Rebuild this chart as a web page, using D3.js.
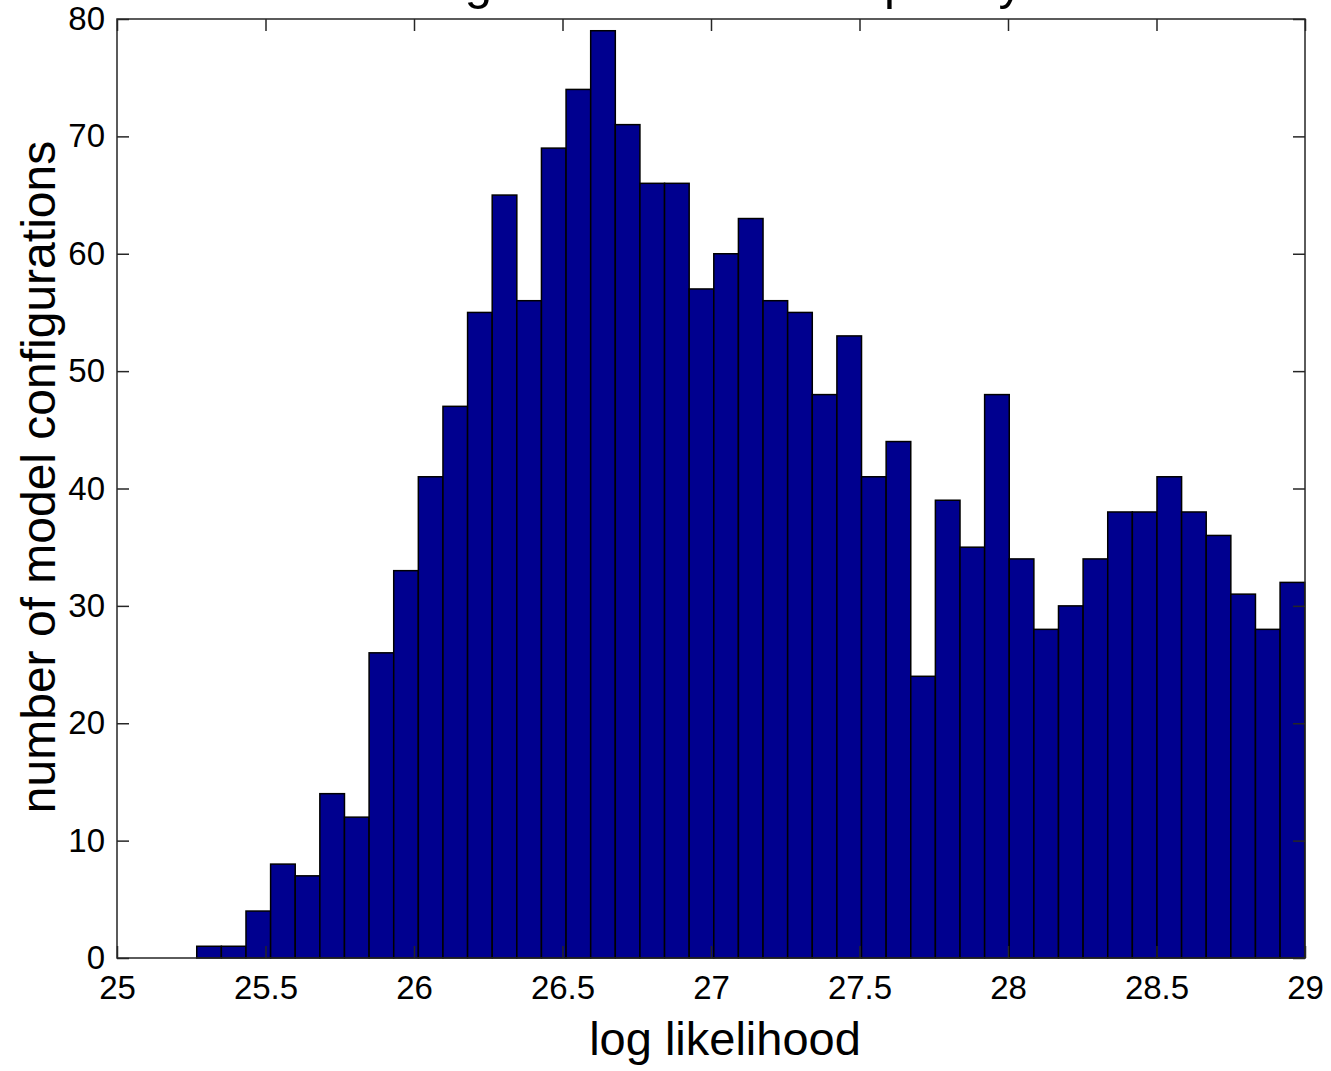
<!DOCTYPE html>
<html>
<head>
<meta charset="utf-8">
<script src="https://cdn.jsdelivr.net/npm/d3@7"></script>
<style>
  body { margin: 0; background: #fff; }
  svg { display: block; font-family: "Liberation Sans", Arial, Helvetica, sans-serif; }
</style>
</head>
<body>
<div class="hist_area"></div>
<script>
// histogram counts, one per bin
var counts = [1, 1, 4, 8, 7, 14, 12, 26, 33, 41, 47, 55, 65, 56, 69, 74, 79, 71, 66, 66,
    57, 60, 63, 56, 55, 48, 53, 41, 44, 24, 39, 35, 48, 34, 28, 30, 34, 38, 38, 41,
    38, 36, 31, 28, 32];
var binStart = 25.2685,
    binWidth = 0.0829;

var xTicks = [25, 25.5, 26, 26.5, 27, 27.5, 28, 28.5, 29];
var yTicks = [0, 10, 20, 30, 40, 50, 60, 70, 80];

var titleText = "Histogram of model complexity";
var xLabel = "log likelihood";
var yLabel = "number of model configurations";

var W = 1331, H = 1071;
var margin = { top: 19, right: 26, bottom: 113, left: 117 },
    width = W - margin.left - margin.right,
    height = H - margin.top - margin.bottom;

var svg = d3.select(".hist_area")
    .append("svg")
    .attr("width", W)
    .attr("height", H);

var g = svg.append("g")
    .attr("transform", "translate(" + margin.left + "," + margin.top + ")");

var x = d3.scaleLinear()
    .domain([25, 29])
    .range([0, width]);

var y = d3.scaleLinear()
    .domain([0, 80])
    .range([height, 0]);

var bins = counts.map(function (c, i) {
    return { x0: binStart + i * binWidth, x1: binStart + (i + 1) * binWidth, n: c };
});

// bars
g.append("g")
    .attr("class", "bars")
    .selectAll("rect")
    .data(bins)
    .enter()
    .append("rect")
    .attr("x", function (d) { return x(d.x0); })
    .attr("y", function (d) { return y(d.n); })
    .attr("width", function (d) { return Math.min(x(d.x1), width) - x(d.x0); })
    .attr("height", function (d) { return y(0) - y(d.n); })
    .attr("fill", "#00008f")
    .attr("stroke", "#000")
    .attr("stroke-width", 1.5);

// axes, ticks pointing inward
var tickLen = 12;

var xAxisB = g.append("g")
    .attr("transform", "translate(0," + height + ")")
    .call(d3.axisBottom(x).tickValues(xTicks).tickFormat(d3.format(""))
        .tickSize(-tickLen).tickPadding(18));

var xAxisT = g.append("g")
    .call(d3.axisTop(x).tickValues(xTicks).tickFormat("")
        .tickSize(-tickLen));

var yAxisL = g.append("g")
    .call(d3.axisLeft(y).tickValues(yTicks).tickFormat(d3.format("d"))
        .tickSize(-tickLen).tickPadding(12));

var yAxisR = g.append("g")
    .attr("transform", "translate(" + width + ",0)")
    .call(d3.axisRight(y).tickValues(yTicks).tickFormat("")
        .tickSize(-tickLen));

[xAxisB, xAxisT, yAxisL, yAxisR].forEach(function (a) {
    a.select(".domain").remove();
    a.selectAll("line")
        .style("stroke", "#262626")
        .style("stroke-width", 1.5);
    a.selectAll("text")
        .style("fill", "#000")
        .style("font-size", "33px")
        .style("font-family", "\"Liberation Sans\", Arial, Helvetica, sans-serif");
});

// box
g.append("rect")
    .attr("x", 0)
    .attr("y", 0)
    .attr("width", width)
    .attr("height", height)
    .attr("fill", "none")
    .attr("stroke", "#262626")
    .attr("stroke-width", 1.5);

// labels
svg.append("text")
    .attr("x", 725)
    .attr("y", 1055)
    .attr("text-anchor", "middle")
    .style("font-size", "47px")
    .text(xLabel);

svg.append("text")
    .attr("transform", "translate(55,477) rotate(-90)")
    .attr("text-anchor", "middle")
    .style("font-size", "48px")
    .text(yLabel);

// title, mostly above the visible area (clipped in the original too)
svg.append("text")
    .attr("x", 688)
    .attr("y", -1)
    .attr("text-anchor", "middle")
    .style("font-size", "49px")
    .text(titleText);
</script>
</body>
</html>
